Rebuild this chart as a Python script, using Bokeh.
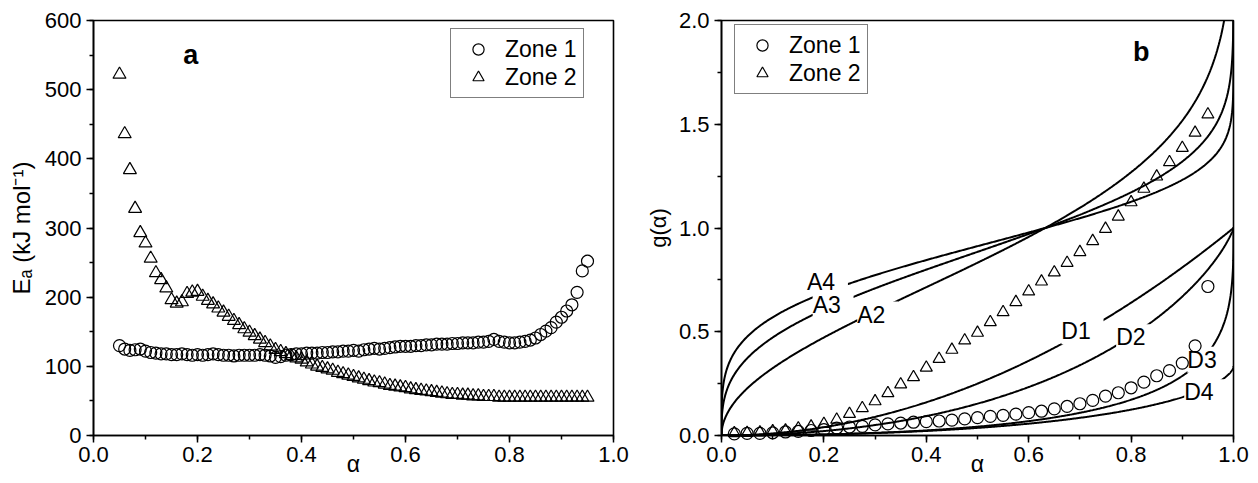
import numpy as np
from bokeh.plotting import figure
from bokeh.layouts import row
from bokeh.models import (Range1d, SingleIntervalTicker, PrintfTickFormatter,
                          Legend, LegendItem, Label)
from bokeh.embed import file_html
from bokeh.resources import INLINE

FONT = "Liberation Sans"

# ---------------- Panel a: activation energy vs conversion ----------------
alpha_a = [round(0.05 + 0.01 * i, 2) for i in range(91)]
ea_zone1 = [130, 125, 123, 124, 125, 122, 120, 119, 118, 118,
            117, 117, 118, 117, 116, 117, 116, 117, 118, 117,
            116, 116, 115, 116, 116, 116, 116, 117, 116, 115,
            113, 114, 116, 117, 118, 118, 119, 119, 119, 120,
            120, 121, 121, 122, 122, 123, 122, 124, 125, 126,
            125, 126, 127, 128, 129, 129, 129, 130, 130, 131,
            131, 132, 132, 132, 133, 133, 134, 134, 134, 135,
            135, 136, 139, 136, 135, 134, 134, 135, 136, 138,
            141, 146, 151, 156, 164, 171, 180, 189, 207, 238,
            252]
ea_zone2 = [522, 436, 384, 328, 293, 278, 256, 235, 225, 213,
            196, 191, 193, 205, 207, 208, 201, 195, 190, 184,
            178, 172, 166, 160, 154, 149, 144, 139, 134, 129,
            124, 121, 118, 115, 112, 110, 106, 103, 100, 98,
            96, 94, 91, 89, 87, 85, 83, 81, 79, 77,
            76, 74, 72, 71, 70, 69, 67, 66, 65, 64,
            63, 62, 61, 60, 59, 59, 58, 58, 57, 57,
            56, 56, 56, 55, 55, 55, 55, 55, 55, 55,
            55, 55, 55, 55, 55, 55, 55, 55, 55, 55,
            55]

# ---------------- Panel b: g(alpha) data and kinetic models ----------------
alpha_b = [0.025, 0.05, 0.075, 0.1, 0.125, 0.15, 0.175, 0.2, 0.225, 0.25,
           0.275, 0.3, 0.325, 0.35, 0.375, 0.4, 0.425, 0.45, 0.475, 0.5,
           0.525, 0.55, 0.575, 0.6, 0.625, 0.65, 0.675, 0.7, 0.725, 0.75,
           0.775, 0.8, 0.825, 0.85, 0.875, 0.9, 0.925, 0.95]
g_zone1 = [0.008, 0.010, 0.010, 0.013, 0.017, 0.020, 0.024, 0.028, 0.036, 0.041,
           0.044, 0.051, 0.056, 0.060, 0.064, 0.067, 0.070, 0.074, 0.080, 0.086,
           0.092, 0.097, 0.103, 0.110, 0.117, 0.128, 0.140, 0.153, 0.169, 0.190,
           0.206, 0.230, 0.257, 0.288, 0.313, 0.349, 0.432, 0.718]
g_zone2 = [0.011, 0.012, 0.015, 0.020, 0.024, 0.034, 0.043, 0.056, 0.076, 0.104,
           0.132, 0.165, 0.204, 0.246, 0.281, 0.327, 0.369, 0.413, 0.458, 0.495,
           0.546, 0.594, 0.643, 0.694, 0.742, 0.786, 0.832, 0.884, 0.937, 0.996,
           1.055, 1.124, 1.189, 1.248, 1.317, 1.386, 1.459, 1.547]

# theoretical solid-state reaction models g(alpha)
model_names = ["A2", "A3", "A4", "D1", "D2", "D3", "D4"]
alpha_m = np.concatenate([[0.0], np.logspace(-9, -2, 120),
                          np.linspace(0.0101, 0.989, 600),
                          1 - np.logspace(-2, -10, 160)])
one_m = 1 - alpha_m
model_curves = {
    "A2": (-np.log(one_m)) ** (1 / 2),
    "A3": (-np.log(one_m)) ** (1 / 3),
    "A4": (-np.log(one_m)) ** (1 / 4),
    "D1": alpha_m ** 2,
    "D2": one_m * np.log(one_m) + alpha_m,
    "D3": (1 - one_m ** (1 / 3)) ** 2,
    "D4": 1 - 2 * alpha_m / 3 - one_m ** (2 / 3),
}
# label anchor positions (alpha, g)
model_label_pos = {
    "A2": (0.305, 0.583), "A3": (0.218, 0.630), "A4": (0.207, 0.738),
    "D1": (0.705, 0.503), "D2": (0.812, 0.474), "D3": (0.951, 0.365),
    "D4": (0.945, 0.209),
}

TICK_PX = "22px"


def style(p, yfmt=None):
    p.outline_line_color = "black"
    p.outline_line_width = 1.6
    p.xgrid.visible = False
    p.ygrid.visible = False
    p.background_fill_color = "white"
    p.border_fill_color = "white"
    for ax in (p.xaxis[0], p.yaxis[0]):
        ax.axis_line_width = 1.6
        ax.major_tick_line_width = 1.5
        ax.minor_tick_line_width = 1.5
        ax.major_tick_out = 7
        ax.major_tick_in = 0
        ax.minor_tick_out = 4
        ax.minor_tick_in = 0
        ax.major_label_text_font = FONT
        ax.major_label_text_font_size = TICK_PX
        ax.major_label_text_color = "black"
        ax.axis_label_text_font = FONT
        ax.axis_label_text_font_style = "normal"
        ax.axis_label_text_color = "black"
    p.xaxis[0].major_label_standoff = 4
    p.yaxis[0].major_label_standoff = 5
    p.xaxis[0].ticker = SingleIntervalTicker(interval=0.2, num_minor_ticks=2)
    p.xaxis[0].formatter = PrintfTickFormatter(format="%.1f")
    p.xaxis[0].axis_label = "\u03b1"
    p.xaxis[0].axis_label_text_font_size = "23px"
    p.xaxis[0].axis_label_standoff = -14
    if yfmt:
        p.yaxis[0].formatter = PrintfTickFormatter(format=yfmt)


def add_legend(p, r1, r2, loc):
    leg = Legend(items=[LegendItem(label="Zone 1", renderers=[r1]),
                        LegendItem(label="Zone 2", renderers=[r2])],
                 location=loc, orientation="vertical")
    leg.glyph_width = 42
    leg.glyph_height = 28
    leg.spacing = -3
    leg.padding = 6
    leg.label_standoff = 6
    leg.label_text_font = FONT
    leg.label_text_font_size = "23px"
    leg.label_text_color = "black"
    leg.border_line_color = "black"
    leg.border_line_width = 1.2
    leg.background_fill_alpha = 1.0
    leg.margin = 0
    p.add_layout(leg, "center")


# ---------------- figure a ----------------
p1 = figure(width=642, height=483, title=None, output_backend="svg",
            toolbar_location=None, x_range=Range1d(0, 1), y_range=Range1d(0, 600),
            min_border_left=93, min_border_right=29, min_border_top=20,
            min_border_bottom=48)
style(p1)
p1.yaxis[0].ticker = SingleIntervalTicker(interval=100, num_minor_ticks=2)
p1.yaxis[0].axis_label = "E\u2090 (kJ mol\u207b\u00b9)"
p1.yaxis[0].axis_label_text_font_size = "24px"
p1.yaxis[0].axis_label_standoff = 7

ra1 = p1.scatter(alpha_a, ea_zone1, marker="circle", size=12, fill_color=None,
                 line_color="black", line_width=1.2, level="overlay")
ra2 = p1.scatter(alpha_a, ea_zone2, marker="triangle", size=13, fill_color=None,
                 line_color="black", line_width=1.2, level="overlay")
add_legend(p1, ra1, ra2, (357, 337))
p1.add_layout(Label(x=0.187, y=550, text="a", text_font=FONT, text_font_size="27px",
                    text_font_style="bold", text_align="center",
                    text_baseline="alphabetic", text_color="black"))

# ---------------- figure b ----------------
p2 = figure(width=614, height=483, title=None, output_backend="svg",
            toolbar_location=None, x_range=Range1d(0, 1), y_range=Range1d(0, 2),
            min_border_left=74, min_border_right=23, min_border_top=20,
            min_border_bottom=48)
style(p2, "%.1f")
p2.yaxis[0].ticker = SingleIntervalTicker(interval=0.5, num_minor_ticks=2)
p2.yaxis[0].axis_label = "g(\u03b1)"
p2.yaxis[0].axis_label_text_font_size = "22px"
p2.yaxis[0].axis_label_standoff = 5

for name in model_names:
    p2.line(alpha_m, model_curves[name], line_color="black", line_width=2)

rb1 = p2.scatter(alpha_b, g_zone1, marker="circle", size=12, fill_color=None,
                 line_color="black", line_width=1.2, level="overlay")
rb2 = p2.scatter(alpha_b, g_zone2, marker="triangle", size=12, fill_color=None,
                 line_color="black", line_width=1.2, level="overlay")
add_legend(p2, rb1, rb2, (13, 341))

for name in ["A2", "A4", "A3", "D1", "D2", "D3", "D4"]:
    lx, ly = model_label_pos[name]
    p2.add_layout(Label(x=lx, y=ly, text=" " + name + " ", text_font=FONT,
                        text_font_size="23px", text_align="center",
                        text_baseline="middle", text_color="black",
                        background_fill_color="white", background_fill_alpha=1.0,
                        padding=0))

p2.add_layout(Label(x=0.82, y=1.847, text="b", text_font=FONT, text_font_size="27px",
                    text_font_style="bold", text_align="center",
                    text_baseline="alphabetic", text_color="black"))

layout = row(p1, p2)
open("out.html", "w").write(file_html(layout, INLINE))
